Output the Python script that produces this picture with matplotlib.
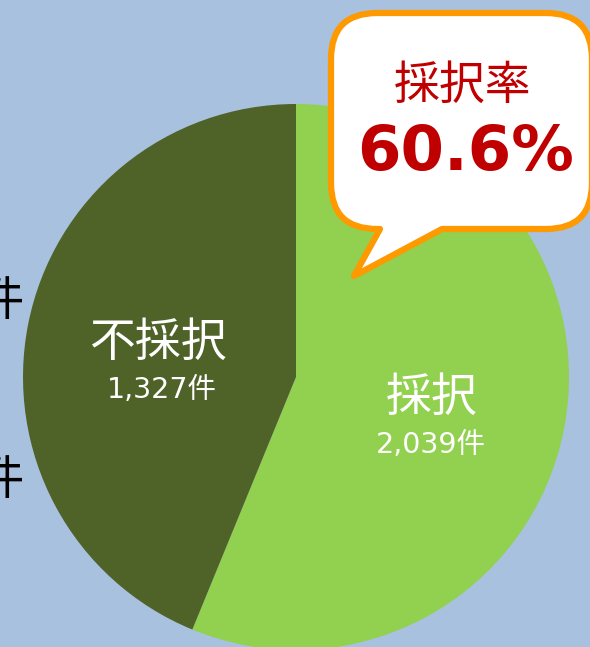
import matplotlib.pyplot as plt
from matplotlib.path import Path
from matplotlib.patches import PathPatch

labels = ['採択', '不採択']
counts = [2039, 1327]
# slice shares as drawn in the picture (the drawn pie does not follow the counts exactly)
shares = [56.2, 43.8]
colors = ['#92d050', '#4f6228']

BG = '#a8c1df'
RED = '#c00000'
ORANGE = '#ff9900'
JP = ['Noto Sans CJK JP', 'DejaVu Sans']
NUM = ['DejaVu Sans', 'Noto Sans CJK JP']

W, H = 590, 647
fig = plt.figure(figsize=(W / 100, H / 100), dpi=100)
fig.patch.set_facecolor(BG)
ax = fig.add_axes([0, 0, 1, 1])

# pie, top start, clockwise
cx, cy, r = 296, H - 377, 273
ax.pie(shares, colors=colors, startangle=90, counterclock=False,
       center=(cx, cy), radius=r, frame=True,
       wedgeprops=dict(linewidth=0))
ax.set_xlim(0, W)
ax.set_ylim(0, H)
ax.set_aspect('equal')
ax.axis('off')

# labels on the slices
ax.text(432, H - 398, labels[0], color='white', fontsize=33, family=JP,
        ha='center', va='center')
ax.text(431, H - 445, f'{counts[0]:,}件', color='white', fontsize=20.5,
        family=NUM, ha='center', va='center')
ax.text(158, H - 343, labels[1], color='white', fontsize=33, family=JP,
        ha='center', va='center')
ax.text(162, H - 390, f'{counts[1]:,}件', color='white', fontsize=20.5,
        family=NUM, ha='center', va='center')

# cut-off text at the left edge (as in the source picture)
for yy in (302, 481):
    ax.text(24, H - yy, '件', color='black', fontsize=34, family=JP,
            ha='right', va='center')

# speech bubble
x0, x1, top, bot, rc = 331, 592, H - 13, H - 229, 46
tl, tr, tip = 380, 442, (354, H - 276)
verts = [
    (x0 + rc, bot), (tl, bot), tip, (tr, bot), (x1 - rc, bot),
    (x1, bot), (x1, bot + rc),
    (x1, top - rc),
    (x1, top), (x1 - rc, top),
    (x0 + rc, top),
    (x0, top), (x0, top - rc),
    (x0, bot + rc),
    (x0, bot), (x0 + rc, bot),
    (x0 + rc, bot),
]
codes = [Path.MOVETO, Path.LINETO, Path.LINETO, Path.LINETO, Path.LINETO,
         Path.CURVE3, Path.CURVE3,
         Path.LINETO,
         Path.CURVE3, Path.CURVE3,
         Path.LINETO,
         Path.CURVE3, Path.CURVE3,
         Path.LINETO,
         Path.CURVE3, Path.CURVE3,
         Path.CLOSEPOLY]
ax.add_patch(PathPatch(Path(verts, codes), facecolor='white', edgecolor=ORANGE,
                       linewidth=4.5, joinstyle='round', zorder=5))

rate = counts[0] / sum(counts) * 100
ax.text(463, H - 86, '採択率', color=RED, fontsize=33, family=JP,
        ha='center', va='center', zorder=6)
ax.text(466, H - 153, f'{rate:.1f}%', color=RED, fontsize=45, family=NUM,
        fontweight='bold', ha='center', va='center', zorder=6)

fig.savefig('out.png', dpi=100, facecolor=BG)
